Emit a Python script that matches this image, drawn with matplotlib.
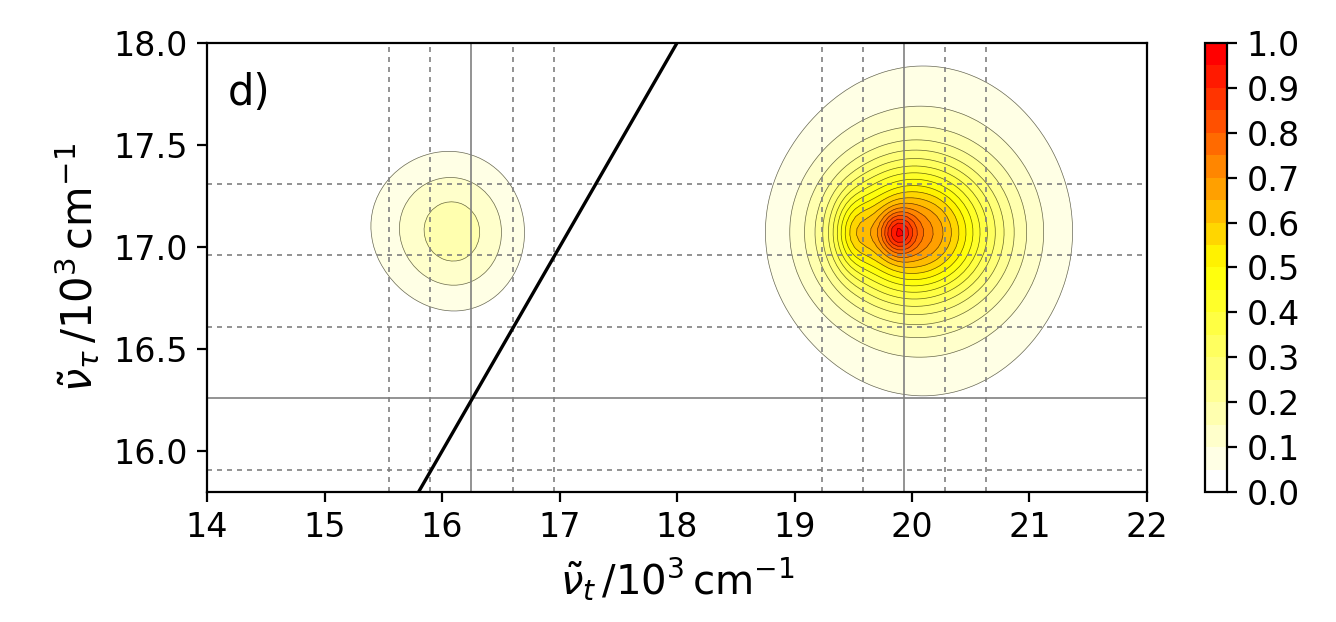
import numpy as np
import matplotlib
matplotlib.use('Agg')
import matplotlib.pyplot as plt
from matplotlib.colors import LinearSegmentedColormap

# peak components of the 2D map (centre, amplitude, widths), in 10^3 cm^-1
# weak peak (two parts), then core / body / wing / shoulder of the strong peak
peak_x0 = [16.15, 15.85, 19.88, 20.00, 20.10, 19.50]
peak_y0 = [17.06, 17.12, 17.07, 17.07, 17.08, 17.07]
peak_amp = [0.13, 0.06, 0.25, 0.56, 0.18, 0.14]
peak_sx = [0.36, 0.45, 0.10, 0.46, 0.75, 0.12]
peak_sy = [0.24, 0.25, 0.07, 0.23, 0.50, 0.12]

# reference lines
vsolid = [16.25, 19.93]
vdashed = [15.55, 15.90, 16.60, 16.95, 19.23, 19.58, 20.28, 20.63]
hsolid = [16.26]
hdashed = [15.91, 16.61, 16.96, 17.31]

levels = np.linspace(0, 1, 21)
cbar_ticks = np.linspace(0, 1, 11)

x = np.arange(14.0, 22.0001, 0.04)
y = np.arange(15.8, 18.0001, 0.03)
X, Y = np.meshgrid(x, y)
Z = np.zeros_like(X)
for x0, y0, a, sx, sy in zip(peak_x0, peak_y0, peak_amp, peak_sx, peak_sy):
    Z += a * np.exp(-(X - x0)**2 / (2 * sx**2) - (Y - y0)**2 / (2 * sy**2))
Z = np.clip(Z, 0, 0.999)

cmap = LinearSegmentedColormap.from_list('wyr', ['white', 'yellow', 'red'])

plt.rcParams['font.size'] = 12
fig = plt.figure(figsize=(6.68, 3.11), dpi=200)
ax = fig.add_axes([0.155, 0.209, 0.7035, 0.722])
cax = fig.add_axes([0.902, 0.209, 0.0165, 0.722])

# first band white, last band red
cf = ax.contourf(X, Y, Z, levels=levels, cmap=cmap, vmin=0.025, vmax=0.975)
ax.contour(X, Y, Z, levels=levels[1:], colors='k', linewidths=0.25, alpha=0.6)

for v in vdashed:
    ax.axvline(v, color='gray', lw=0.6, ls=(0, (3, 3)))
for v in vsolid:
    ax.axvline(v, color='gray', lw=0.6)
for h in hdashed:
    ax.axhline(h, color='gray', lw=0.6, ls=(0, (3, 3)))
for h in hsolid:
    ax.axhline(h, color='gray', lw=0.6)
ax.plot([15.8, 18.0], [15.8, 18.0], color='k', lw=1.2)

ax.set_xlim(14, 22)
ax.set_ylim(15.8, 18.0)
ax.set_xticks(np.arange(14, 23, 1))
ax.set_yticks([16.0, 16.5, 17.0, 17.5, 18.0])
ax.set_xlabel(r'$\tilde{\nu}_t\,/10^3\,\mathrm{cm}^{-1}$', fontsize=14.5)
ax.set_ylabel(r'$\tilde{\nu}_\tau\,/10^3\,\mathrm{cm}^{-1}$', fontsize=15)
ax.text(0.022, 0.935, 'd)', transform=ax.transAxes, fontsize=15, va='top')

cb = fig.colorbar(cf, cax=cax, ticks=cbar_ticks)
cb.ax.set_yticklabels(['%.1f' % t for t in cbar_ticks])

fig.savefig('out.png', dpi=200)
